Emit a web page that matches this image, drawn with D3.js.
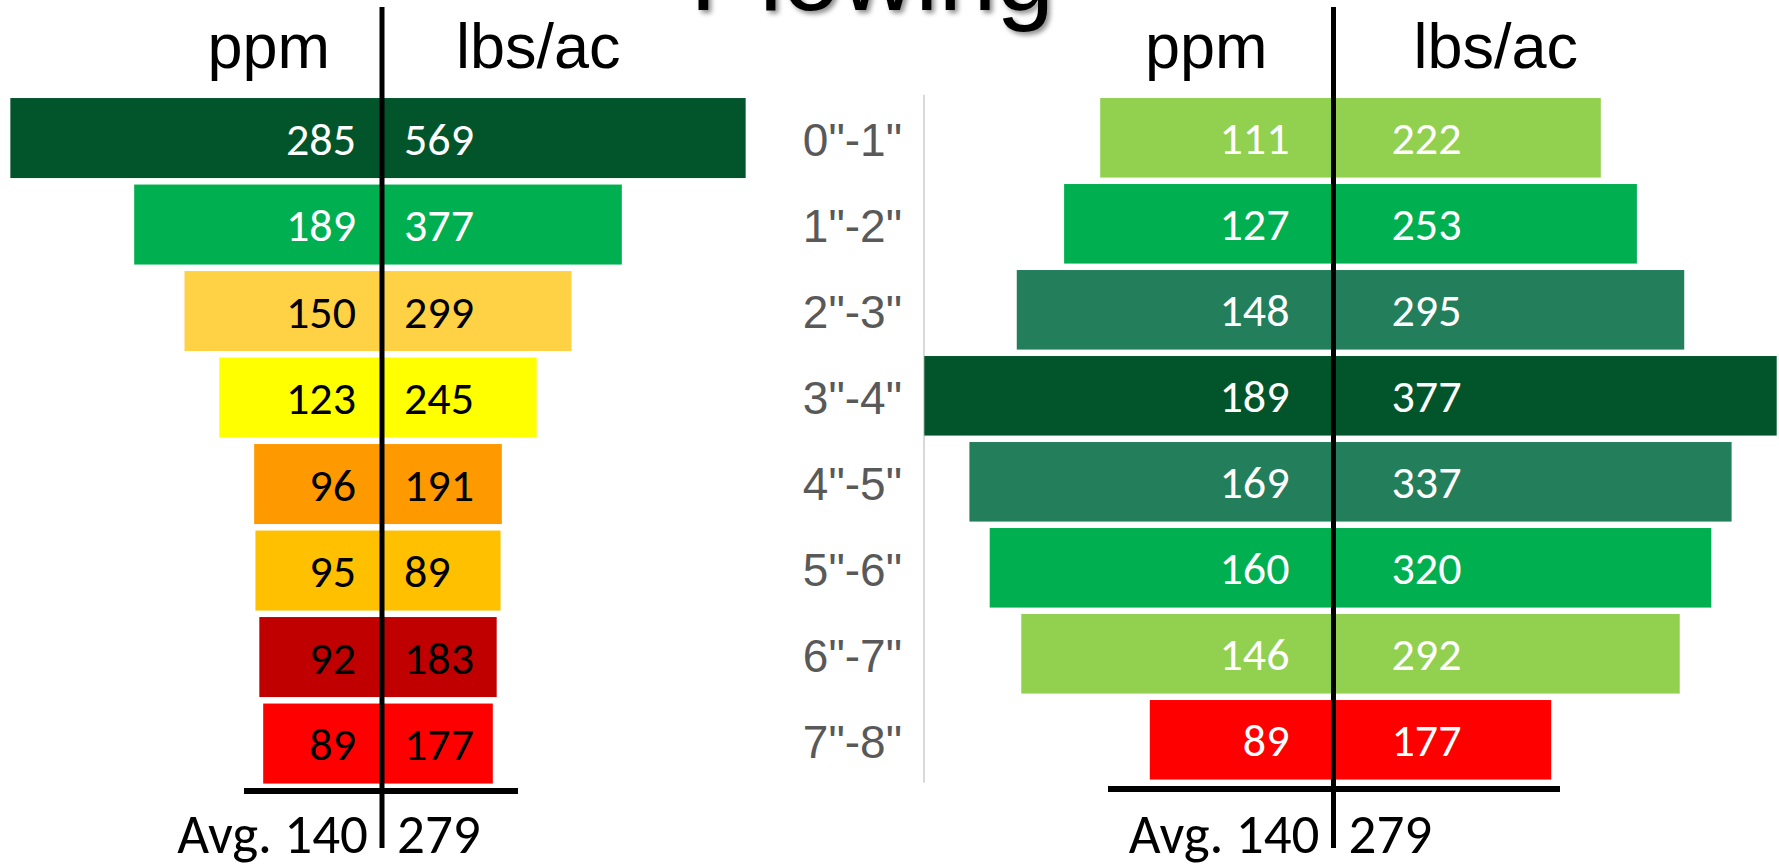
<!DOCTYPE html>
<html>
<head>
<meta charset="utf-8">
<script src="https://cdnjs.cloudflare.com/ajax/libs/d3/7.8.5/d3.min.js"></script>
<style>
  html, body { margin: 0; padding: 0; background: #ffffff; }
  svg { display: block; }
</style>
</head>
<body>
<svg id="chart" width="1779" height="867"></svg>
<script>
// ---------- data ----------
const title = "Plowing";
const categories = ['0"-1"', '1"-2"', '2"-3"', '3"-4"', '4"-5"', '5"-6"', '6"-7"', '7"-8"'];
const leftPpm  = [285, 189, 150, 123, 96, 95, 92, 89];
const leftLbs  = [569, 377, 299, 245, 191, 89, 183, 177];
const leftColors = ["#02552A", "#00B050", "#FFD246", "#FFFF00", "#FF9900", "#FFC000", "#C00000", "#FF0000"];
const leftLabelColors = ["#ffffff", "#ffffff", "#000000", "#000000", "#000000", "#000000", "#000000", "#000000"];
const rightPpm = [111, 127, 148, 189, 169, 160, 146, 89];
const rightLbs = [222, 253, 295, 377, 337, 320, 292, 177];
const rightColors = ["#92D050", "#00B050", "#237E5B", "#02552A", "#237E5B", "#00B050", "#92D050", "#FF0000"];
const rightLabelColors = ["#ffffff", "#ffffff", "#ffffff", "#ffffff", "#ffffff", "#ffffff", "#ffffff", "#ffffff"];
const unitLabels = ["ppm", "lbs/ac"];
const leftAvg = ["Avg. 140", "279"];
const rightAvg = ["Avg. 140", "279"];

// ---------- drawing ----------
const svg = d3.select("#chart");
const numFont = "Carlito, Calibri, Lato, sans-serif";
const arial = "Arial, 'Liberation Sans', Arimo, sans-serif";

const defs = svg.append("defs");
const f = defs.append("filter").attr("id", "shadow").attr("x", "-10%").attr("y", "-50%").attr("width", "120%").attr("height", "200%");
f.append("feDropShadow").attr("dx", 3).attr("dy", 3).attr("stdDeviation", 2.5).attr("flood-color", "#000").attr("flood-opacity", 0.45);

svg.append("text")
  .attr("x", 872).attr("y", 10)
  .attr("text-anchor", "middle")
  .attr("font-family", arial).attr("font-size", 104)
  .attr("fill", "#000")
  .attr("filter", "url(#shadow)")
  .text(title);

function panel(cfg) {
  const g = svg.append("g");
  const x = d3.scaleLinear().domain([-cfg.dmax, cfg.dmax])
    .range([cfg.center - cfg.dmax * cfg.k, cfg.center + cfg.dmax * cfg.k]);
  const y = d3.scaleBand().domain(categories).range(cfg.yRange)
    .paddingInner(0.075).paddingOuter(0.0375);

  const rows = categories.map((c, i) => ({c, ppm: cfg.ppm[i], lbs: cfg.lbs[i], color: cfg.colors[i], lc: cfg.labelColors[i]}));

  if (cfg.axisX !== undefined) {
    g.append("line")
      .attr("x1", cfg.axisX).attr("x2", cfg.axisX)
      .attr("y1", cfg.yRange[0]).attr("y2", cfg.yRange[1])
      .attr("stroke", "#d9d9d9").attr("stroke-width", 2);
    g.selectAll("text.cat").data(rows).join("text")
      .attr("class", "cat")
      .attr("x", cfg.axisX - 22)
      .attr("y", d => y(d.c) + y.bandwidth() / 2 + 2)
      .attr("dy", "0.36em")
      .attr("text-anchor", "end")
      .attr("font-family", arial).attr("font-size", 46)
      .attr("fill", "#595959")
      .text(d => d.c);
  }

  g.selectAll("rect.bar").data(rows).join("rect")
    .attr("class", "bar")
    .attr("x", d => x(-d.ppm / 2))
    .attr("width", d => x(d.ppm / 2) - x(-d.ppm / 2))
    .attr("y", d => y(d.c))
    .attr("height", y.bandwidth())
    .attr("fill", d => d.color);

  g.selectAll("text.ppm").data(rows).join("text")
    .attr("class", "ppm")
    .attr("x", cfg.lineX + cfg.ppmOff)
    .attr("y", d => y(d.c) + y.bandwidth() / 2)
    .attr("dy", "0.36em")
    .attr("text-anchor", "end")
    .attr("font-family", numFont).attr("font-size", 46)
    .attr("fill", d => d.lc)
    .text(d => d.ppm);

  g.selectAll("text.lbs").data(rows).join("text")
    .attr("class", "lbs")
    .attr("x", cfg.lineX + cfg.lbsOff)
    .attr("y", d => y(d.c) + y.bandwidth() / 2)
    .attr("dy", "0.36em")
    .attr("text-anchor", "start")
    .attr("font-family", numFont).attr("font-size", 46)
    .attr("fill", d => d.lc)
    .text(d => d.lbs);

  // headers
  g.append("text").attr("x", cfg.lineX + cfg.hdrOff[0]).attr("y", 68)
    .attr("text-anchor", "end").attr("font-family", arial).attr("font-size", 63)
    .attr("fill", "#000").text(unitLabels[0]);
  g.append("text").attr("x", cfg.lineX + cfg.hdrOff[1]).attr("y", 68)
    .attr("text-anchor", "start").attr("font-family", arial).attr("font-size", 63)
    .attr("fill", "#000").text(unitLabels[1]);

  // baseline
  g.append("line")
    .attr("x1", cfg.hLine[0]).attr("x2", cfg.hLine[1])
    .attr("y1", cfg.hLineY).attr("y2", cfg.hLineY)
    .attr("stroke", "#000").attr("stroke-width", 6);

  // center line
  g.append("line")
    .attr("x1", cfg.lineX).attr("x2", cfg.lineX)
    .attr("y1", 7).attr("y2", 848)
    .attr("stroke", "#000").attr("stroke-width", 5);

  // averages
  g.append("text").attr("x", cfg.lineX - 14).attr("y", 853)
    .attr("text-anchor", "end").attr("font-family", numFont).attr("font-size", 55)
    .attr("fill", "#000").text(cfg.avg[0]);
  g.append("text").attr("x", cfg.lineX + 15).attr("y", 853)
    .attr("text-anchor", "start").attr("font-family", numFont).attr("font-size", 55)
    .attr("fill", "#000").text(cfg.avg[1]);
}

panel({
  ppm: leftPpm, lbs: leftLbs, colors: leftColors, labelColors: leftLabelColors,
  dmax: 300, k: 2.58, center: 378, yRange: [94.8, 786.8],
  lineX: 382, ppmOff: -26, lbsOff: 22, hdrOff: [-52, 74],
  hLine: [244, 518], hLineY: 791, avg: leftAvg
});
panel({
  ppm: rightPpm, lbs: rightLbs, colors: rightColors, labelColors: rightLabelColors,
  dmax: 200, k: 4.51, center: 1350.5, yRange: [94.8, 782.8],
  lineX: 1333.5, ppmOff: -44, lbsOff: 58, hdrOff: [-66, 80],
  hLine: [1108, 1560], hLineY: 789, avg: rightAvg, axisX: 924
});
</script>
</body>
</html>
